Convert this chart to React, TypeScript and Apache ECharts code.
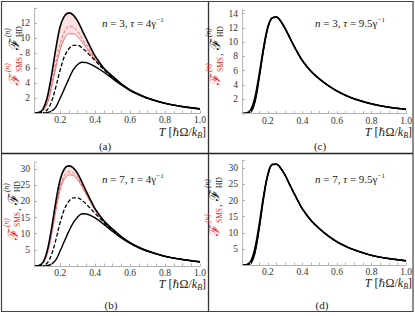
import React, { useEffect, useRef } from "react";
import * as echarts from "echarts";

// Temperature samples T [ħΩ/k_B]
const T = [0.05, 0.075, 0.1, 0.125, 0.15, 0.175, 0.2, 0.225, 0.25, 0.275, 0.3, 0.325, 0.35, 0.375, 0.4, 0.45, 0.5, 0.55, 0.6, 0.65, 0.7, 0.8, 0.9, 1.0];

// (a) n = 3, tau = 4
const topA = [0, 0.05, 0.45, 2.0, 5.0, 8.6, 11.6, 13.0, 13.4, 13.1, 12.3, 11.1, 9.9, 8.7, 7.6, 6.0, 4.9, 3.9, 3.1, 2.5, 2.0, 1.3, 0.85, 0.55];
const redDashA = [0, 0.03, 0.3, 1.4, 3.8, 6.8, 9.3, 10.9, 11.6, 11.5, 10.9, 10.0, 9.1, 8.2, 7.3, 5.9, 4.8, 3.85, 3.08, 2.5, 2.0, 1.3, 0.85, 0.55];
const redSolidA = [0, 0.02, 0.25, 1.2, 3.4, 6.1, 8.5, 10.0, 10.6, 10.6, 10.2, 9.5, 8.7, 7.9, 7.1, 5.8, 4.75, 3.8, 3.05, 2.48, 2.0, 1.3, 0.85, 0.55];
const dashA = [0, 0, 0.05, 0.4, 1.5, 3.5, 5.8, 7.6, 8.6, 9.05, 9.05, 8.7, 8.2, 7.6, 7.0, 5.8, 4.7, 3.8, 3.05, 2.45, 1.95, 1.28, 0.85, 0.55];
const bottomA = [0, 0, 0, 0.05, 0.25, 0.8, 2.0, 3.3, 4.6, 5.8, 6.5, 6.8, 6.75, 6.5, 6.2, 5.45, 4.6, 3.75, 3.0, 2.42, 1.95, 1.28, 0.85, 0.55];

// (b) n = 7, tau = 4
const topB = [0, 0.1, 1.0, 4.6, 11.5, 19.9, 26.8, 30.2, 31.0, 30.4, 28.6, 25.9, 23.0, 20.3, 17.7, 14.0, 11.4, 9.1, 7.2, 5.8, 4.7, 3.0, 2.0, 1.3];
const redDashB = [0, 0.08, 0.8, 3.9, 10.2, 18.0, 24.7, 28.1, 29.2, 28.9, 27.4, 25.0, 22.4, 19.9, 17.4, 13.8, 11.3, 9.0, 7.15, 5.78, 4.7, 3.0, 2.0, 1.3];
const redSolidB = [0, 0.07, 0.7, 3.5, 9.5, 17.1, 23.7, 27.1, 28.2, 28.0, 26.7, 24.5, 22.0, 19.6, 17.2, 13.7, 11.2, 8.95, 7.1, 5.75, 4.68, 3.0, 2.0, 1.3];
const dashB = [0, 0, 0.1, 0.9, 3.5, 8.1, 13.5, 17.7, 20.1, 21.1, 21.1, 20.3, 19.1, 17.7, 16.3, 13.5, 11.0, 8.85, 7.1, 5.7, 4.6, 3.0, 2.0, 1.3];
const bottomB = [0, 0, 0, 0.1, 0.6, 1.9, 4.7, 7.8, 10.8, 13.4, 15.2, 16.2, 16.1, 15.6, 14.9, 12.9, 10.7, 8.7, 7.0, 5.65, 4.55, 3.0, 2.0, 1.3];

// (c) n = 3, tau = 9.5
const topC = [0, 0.05, 0.5, 2.3, 5.6, 9.3, 12.2, 13.4, 13.5, 12.9, 11.9, 10.7, 9.5, 8.4, 7.4, 5.9, 4.8, 3.9, 3.15, 2.55, 2.05, 1.35, 0.88, 0.58];
const redC = [0, 0.02, 0.3, 1.9, 5.3, 9.1, 12.1, 13.4, 13.5, 12.9, 11.9, 10.7, 9.5, 8.4, 7.4, 5.9, 4.8, 3.9, 3.15, 2.55, 2.05, 1.35, 0.88, 0.58];
const dashC = [0, 0.01, 0.2, 1.7, 5.1, 9.0, 12.05, 13.4, 13.5, 12.9, 11.9, 10.7, 9.5, 8.4, 7.4, 5.9, 4.8, 3.9, 3.15, 2.55, 2.05, 1.35, 0.88, 0.58];
const bottomC = [0, 0, 0.15, 1.6, 5.0, 8.9, 12.0, 13.4, 13.5, 12.9, 11.9, 10.7, 9.5, 8.4, 7.4, 5.9, 4.8, 3.9, 3.15, 2.55, 2.05, 1.35, 0.88, 0.58];

// (d) n = 7, tau = 9.5
const topD = [0, 0.1, 1.1, 5.2, 12.8, 21.5, 28.3, 31.2, 31.3, 30.0, 27.8, 25.1, 22.4, 19.8, 17.4, 13.8, 11.2, 9.0, 7.2, 5.8, 4.7, 3.0, 2.0, 1.3];
const redD = [0, 0.04, 0.6, 4.3, 12.0, 21.0, 28.1, 31.2, 31.3, 30.0, 27.8, 25.1, 22.4, 19.8, 17.4, 13.8, 11.2, 9.0, 7.2, 5.8, 4.7, 3.0, 2.0, 1.3];
const dashD = [0, 0.03, 0.5, 4.0, 11.7, 20.8, 28.0, 31.2, 31.3, 30.0, 27.8, 25.1, 22.4, 19.8, 17.4, 13.8, 11.2, 9.0, 7.2, 5.8, 4.7, 3.0, 2.0, 1.3];
const bottomD = [0, 0, 0.35, 3.7, 11.4, 20.6, 27.9, 31.2, 31.3, 30.0, 27.8, 25.1, 22.4, 19.8, 17.4, 13.8, 11.2, 9.0, 7.2, 5.8, 4.7, 3.0, 2.0, 1.3];

// Axis ticks
const xTickLabels = ["0.2", "0.4", "0.6", "0.8", "1.0"];
const yTicksTop = [2, 4, 6, 8, 10, 12];
const yTicksTopC = [2, 4, 6, 8, 10, 12, 14];
const yTicksBottom = [5, 10, 15, 20, 25, 30];

const panelLabels = ["(a)", "(b)", "(c)", "(d)"];
const annotations = [
  ["3", "4"],
  ["7", "4"],
  ["3", "9.5"],
  ["7", "9.5"],
];

const SERIF = "Liberation Serif";
const RED_TXT = "#ee2a2a";
const RED_LINE = "#f25c5c";
const AXIS = "#b4b4b4";

const pairs = (arr: number[]) => T.map((t, i) => [t, arr[i]]);

function panelSeries(g: number, top: number[], rDash: number[], rSolid: number[], dash: number[], bottom: number[]) {
  const common = { type: "line", xAxisIndex: g, yAxisIndex: g, symbol: "none", smooth: 0.35, silent: true };
  return [
    // pink band between the outer black curve and the lower red curve
    { ...common, data: pairs(top), lineStyle: { opacity: 0 }, areaStyle: { color: "#fbe1e1", opacity: 1 }, z: 1 },
    { ...common, data: pairs(rSolid), lineStyle: { opacity: 0 }, areaStyle: { color: "#ffffff", opacity: 1 }, z: 2 },
    { ...common, data: pairs(rDash), lineStyle: { color: RED_LINE, width: 0.9, type: [3, 2] }, z: 3 },
    { ...common, data: pairs(rSolid), lineStyle: { color: RED_LINE, width: 0.9 }, z: 3 },
    { ...common, data: pairs(bottom), lineStyle: { color: "#000", width: 1.4 }, z: 4 },
    { ...common, data: pairs(dash), lineStyle: { color: "#000", width: 1.3, type: [4, 2] }, z: 4 },
    { ...common, data: pairs(top), lineStyle: { color: "#000", width: 1.6 }, z: 5 },
  ];
}

const near = (v: number, list: number[]) => list.some((x) => Math.abs(x - v) < 1e-6);

function xAxisCfg(g: number) {
  return {
    type: "value",
    gridIndex: g,
    min: 0.05,
    max: 1.0,
    interval: 0.05,
    z: 10,
    axisLine: { show: true, onZero: false, lineStyle: { color: AXIS, width: 1 } },
    axisTick: { show: true, inside: true, length: 2.5, lineStyle: { color: AXIS } },
    splitLine: { show: false },
    axisLabel: {
      margin: 2,
      fontSize: 9.5,
      fontFamily: SERIF,
      color: "#333",
      formatter: (v: number) => {
        const hit = xTickLabels.find((l) => Math.abs(parseFloat(l) - v) < 1e-6);
        return hit ? hit : "";
      },
    },
  };
}

function yAxisCfg(g: number, max: number, interval: number, ticks: number[], minorSplit: number) {
  return {
    type: "value",
    gridIndex: g,
    min: 0,
    max,
    interval,
    z: 10,
    axisLine: { show: true, onZero: false, lineStyle: { color: AXIS, width: 1 } },
    axisTick: { show: true, inside: true, length: 3, lineStyle: { color: AXIS } },
    minorTick: { show: true, splitNumber: minorSplit, length: 1.5, lineStyle: { color: "#d0d0d0" } },
    splitLine: { show: false },
    axisLabel: {
      margin: 4,
      fontSize: 9.5,
      fontFamily: SERIF,
      color: "#333",
      formatter: (v: number) => (near(v, ticks) ? String(Math.round(v)) : ""),
    },
  };
}

function yLabel(x: number, y: number) {
  const base = { fontFamily: SERIF, verticalAlign: "middle", align: "left" };
  const F = "DejaVu Serif";
  return {
    type: "group",
    x,
    y,
    rotation: Math.PI / 2,
    children: [
      { type: "text", x: 0, y: 0, style: { ...base, fontFamily: F, text: "ℱ", fontSize: 14, fill: RED_TXT } },
      { type: "text", x: 13, y: -6.5, style: { ...base, text: "(n)", fontStyle: "italic", fontSize: 7.5, fill: RED_TXT } },
      { type: "text", x: 13, y: 5, style: { ...base, text: "SMS", fontSize: 7.5, fill: RED_TXT } },
      { type: "text", x: 29, y: 3, style: { ...base, text: ",", fontSize: 11, fill: "#222" } },
      { type: "text", x: 35, y: 0, style: { ...base, fontFamily: F, text: "ℱ", fontSize: 14, fill: "#111" } },
      { type: "text", x: 48, y: -6.5, style: { ...base, text: "(n)", fontStyle: "italic", fontSize: 7.5, fill: "#111" } },
      { type: "text", x: 48, y: 5, style: { ...base, text: "HD", fontSize: 7.5, fill: "#111" } },
    ],
  };
}

function xTitle(right: number, y: number) {
  return {
    type: "text",
    x: right,
    y,
    style: {
      text: "{i|T} [{h|ℏ}Ω/{i|k}{s|B}]",
      align: "right",
      verticalAlign: "middle",
      fontFamily: SERIF,
      fontSize: 12,
      lineHeight: 14,
      fill: "#222",
      rich: {
        i: { fontStyle: "italic", fontFamily: SERIF, fontSize: 12, lineHeight: 14 },
        h: { fontStyle: "italic", fontFamily: "DejaVu Serif", fontSize: 11, lineHeight: 14 },
        s: { fontStyle: "italic", fontFamily: SERIF, fontSize: 8, lineHeight: 8, verticalAlign: "bottom" },
      },
    },
  };
}

function annotation(x: number, y: number, n: string, tau: string) {
  return {
    type: "text",
    x,
    y,
    style: {
      text: `{i|n} = ${n}, {i|τ} = ${tau}{g|γ}{p|−1}`,
      align: "left",
      verticalAlign: "middle",
      fontFamily: SERIF,
      fontSize: 11,
      lineHeight: 14,
      fill: "#222",
      rich: {
        i: { fontStyle: "italic", fontFamily: SERIF, fontSize: 11, lineHeight: 14 },
        g: { fontFamily: SERIF, fontSize: 11, lineHeight: 14 },
        p: { fontFamily: SERIF, fontSize: 7, lineHeight: 7, verticalAlign: "top" },
      },
    },
  };
}

function panelLabel(x: number, y: number, t: string) {
  return {
    type: "text",
    x,
    y,
    style: { text: t, align: "center", verticalAlign: "middle", fontFamily: SERIF, fontSize: 11, fill: "#222" },
  };
}

export default function App() {
  const ref = useRef<HTMLDivElement>(null);
  useEffect(() => {
    if (!ref.current) return;
    const chart = echarts.init(ref.current, undefined, { renderer: "svg" });
    const option = {
      animation: false,
      backgroundColor: "#fff",
      textStyle: { fontFamily: SERIF },
      grid: [
        { left: 34, top: 8, width: 166, height: 105 },
        { left: 34, top: 162, width: 166, height: 104 },
        { left: 242, top: 10, width: 166, height: 103.5 },
        { left: 242, top: 160, width: 166, height: 105 },
      ],
      xAxis: [xAxisCfg(0), xAxisCfg(1), xAxisCfg(2), xAxisCfg(3)],
      yAxis: [
        yAxisCfg(0, 14.05, 2, yTicksTop, 4),
        yAxisCfg(1, 32.2, 5, yTicksBottom, 5),
        yAxisCfg(2, 14.5, 2, yTicksTopC, 4),
        yAxisCfg(3, 32.6, 5, yTicksBottom, 5),
      ],
      series: [
        ...panelSeries(0, topA, redDashA, redSolidA, dashA, bottomA),
        ...panelSeries(1, topB, redDashB, redSolidB, dashB, bottomB),
        ...panelSeries(2, topC, redC, redC, dashC, bottomC),
        ...panelSeries(3, topD, redD, redD, dashD, bottomD),
      ],
      graphic: [
        {
          type: "rect",
          shape: { x: 1.5, y: 1.5, width: 411.5, height: 310 },
          style: { fill: "none", stroke: "#444", lineWidth: 1.2 },
          silent: true,
        },
        { type: "line", shape: { x1: 208.5, y1: 1.5, x2: 208.5, y2: 311.5 }, style: { stroke: "#333", lineWidth: 1.3 }, silent: true },
        { type: "line", shape: { x1: 1.5, y1: 153.5, x2: 413, y2: 153.5 }, style: { stroke: "#222", lineWidth: 1.3 }, silent: true },
        yLabel(14, 85),
        yLabel(12.5, 240),
        yLabel(215, 85),
        yLabel(214, 236),
        xTitle(206, 132),
        xTitle(206, 284),
        xTitle(412, 132),
        xTitle(412, 283),
        annotation(102, 23, annotations[0][0], annotations[0][1]),
        annotation(102, 179, annotations[1][0], annotations[1][1]),
        annotation(315, 23, annotations[2][0], annotations[2][1]),
        annotation(315, 179, annotations[3][0], annotations[3][1]),
        panelLabel(105, 146, panelLabels[0]),
        panelLabel(111, 305, panelLabels[1]),
        panelLabel(320, 146, panelLabels[2]),
        panelLabel(322, 305, panelLabels[3]),
      ],
    };
    chart.setOption(option as any);
    return () => chart.dispose();
  }, []);
  return (
    <div
      ref={ref}
      style={{ position: "fixed", left: 0, top: 0, width: 415, height: 316, background: "#fff" }}
    />
  );
}
